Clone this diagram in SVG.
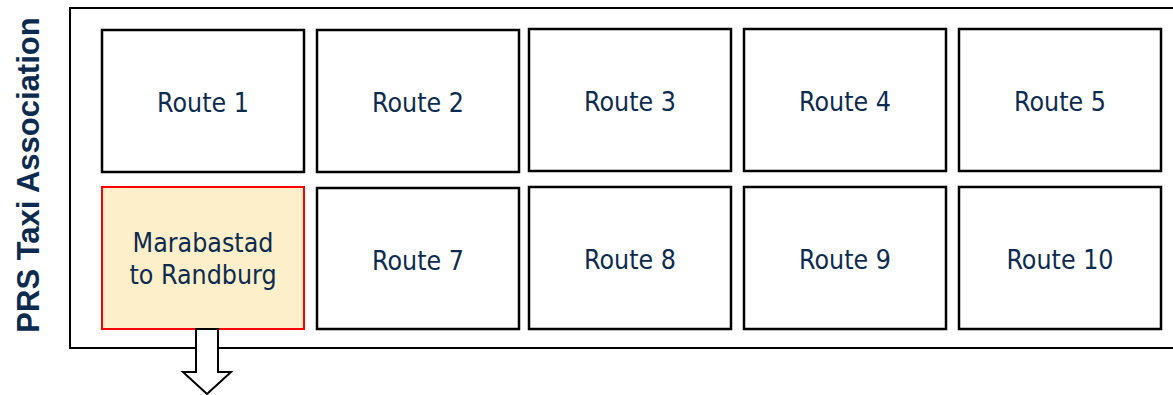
<svg xmlns="http://www.w3.org/2000/svg" width="1173" height="395" viewBox="0 0 1173 395">
<style>
.box{fill:#ffffff;stroke:#000000;stroke-width:2.5}
.sel{fill:#fdefca;stroke:#ff0000;stroke-width:2}
.lbl{font-family:"DejaVu Sans",sans-serif;font-stretch:condensed;font-size:26.5px;fill:#0d2b4e;text-anchor:middle}
.title{font-family:"Liberation Sans",Arial,sans-serif;font-weight:bold;font-size:31px;fill:#0d2b4e;text-anchor:middle}
</style>
<rect x="0" y="0" width="1173" height="395" fill="#ffffff"/>
<text class="title" transform="translate(39,175) rotate(-90)">PRS Taxi Association</text>
<g id="frame"><rect x="70" y="8" width="1120" height="340" fill="none" stroke="#000" stroke-width="2"/></g>
<g id="route1"><rect class="box" x="102" y="30" width="202" height="142"/><text class="lbl" x="203" y="112">Route 1</text></g>
<g id="route2"><rect class="box" x="317" y="30" width="202" height="142"/><text class="lbl" x="418" y="112">Route 2</text></g>
<g id="route3"><rect class="box" x="529" y="29" width="202" height="142"/><text class="lbl" x="630" y="111">Route 3</text></g>
<g id="route4"><rect class="box" x="744" y="29" width="202" height="142"/><text class="lbl" x="845" y="111">Route 4</text></g>
<g id="route5"><rect class="box" x="959" y="29" width="202" height="142"/><text class="lbl" x="1060" y="111">Route 5</text></g>
<g id="route6"><rect class="sel" x="102" y="187" width="202" height="142"/><text class="lbl" x="203" y="252">Marabastad</text><text class="lbl" x="203" y="284">to Randburg</text></g>
<g id="route7"><rect class="box" x="317" y="188" width="202" height="141"/><text class="lbl" x="418" y="270">Route 7</text></g>
<g id="route8"><rect class="box" x="529" y="187" width="202" height="142"/><text class="lbl" x="630" y="269">Route 8</text></g>
<g id="route9"><rect class="box" x="744" y="187" width="202" height="142"/><text class="lbl" x="845" y="269">Route 9</text></g>
<g id="route10"><rect class="box" x="959" y="187" width="202" height="142"/><text class="lbl" x="1060" y="269">Route 10</text></g>
<g id="connectors"><path d="M196 329 L218 329 L218 372 L231 372 L207 394 L183 372 L196 372 Z" fill="#ffffff" stroke="#000" stroke-width="2" stroke-linejoin="miter"/></g>
</svg>
